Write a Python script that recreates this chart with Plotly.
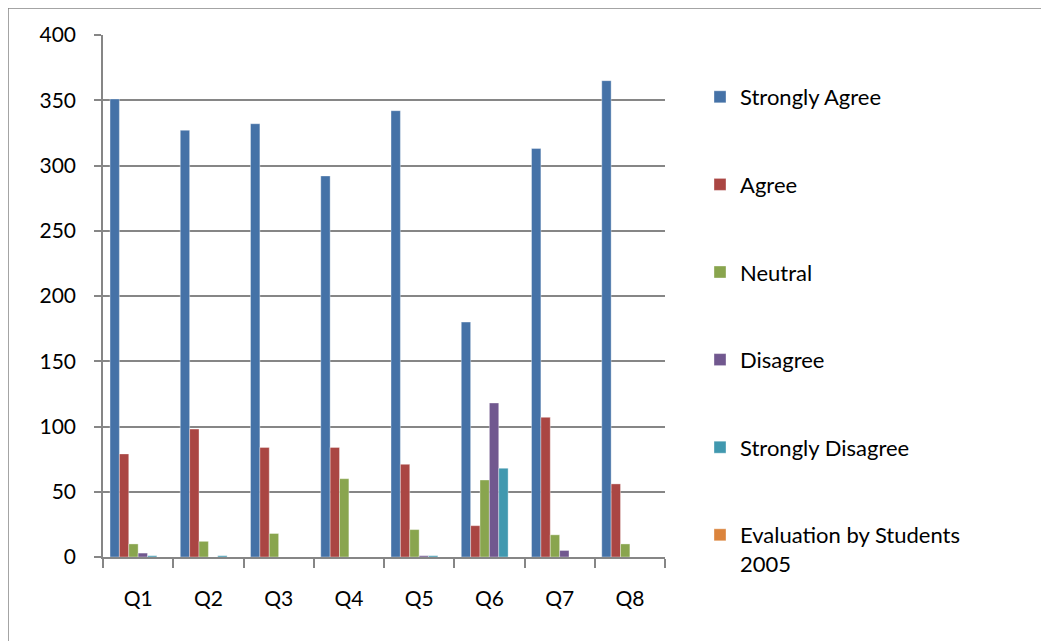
import plotly.graph_objects as go

categories = ["Q1", "Q2", "Q3", "Q4", "Q5", "Q6", "Q7", "Q8"]
strongly_agree = [351, 327, 332, 292, 342, 180, 313, 365]
agree = [79, 98, 84, 84, 71, 24, 107, 56]
neutral = [10, 12, 18, 60, 21, 59, 17, 10]
disagree = [3, 0, 0, 0, 1, 118, 5, 0]
strongly_disagree = [1, 1, 0, 0, 1, 68, 0, 0]
evaluation_2005 = [0, 0, 0, 0, 0, 0, 0, 0]

series = [
    ("Strongly Agree", strongly_agree, "#4572A7"),
    ("Agree", agree, "#AA4643"),
    ("Neutral", neutral, "#89A54E"),
    ("Disagree", disagree, "#71588F"),
    ("Strongly Disagree", strongly_disagree, "#4198AF"),
    ("Evaluation by Students<br>2005", evaluation_2005, "#DB843D"),
]

fig = go.Figure()
for i, (name, vals, col) in enumerate(series):
    fig.add_trace(go.Bar(
        x=categories, y=vals, name=name,
        marker=dict(color=col, line=dict(color="rgba(255,255,255,0.6)", width=0.6)),
        legendgroup=str(i),
    ))

W, H = 1049, 641
OFF = 8  # page body offset
L, R, T, B = 103 - OFF, 665 - OFF, 35 - OFF, 557 - OFF

def px_x(p):
    return (p - OFF - L) / (R - L)

def px_y(p):
    return (B - (p - OFF)) / (B - T)

font = "Lato, 'Open Sans', sans-serif"
fig.update_layout(
    width=W, height=H,
    margin=dict(l=L, r=W - R, t=T, b=H - B),
    paper_bgcolor="white", plot_bgcolor="white",
    barmode="group", bargap=0.2, bargroupgap=0,
    font=dict(family=font, size=21, color="black"),
    showlegend=True,
    legend=dict(
        x=px_x(700), y=px_y(76), xanchor="left", yanchor="top",
        traceorder="grouped", tracegroupgap=56, valign="top",
        font=dict(family=font, size=22, color="black"),
        itemwidth=30,
    ),
    xaxis=dict(
        showgrid=False, showline=True, linecolor="#868686", linewidth=1.5,
        ticks="outside", tickson="boundaries", ticklen=9, tickcolor="#868686",
        tickwidth=1.5, ticklabelstandoff=22,
    ),
    yaxis=dict(
        range=[0, 400], dtick=50, showgrid=True, gridcolor="#868686", gridwidth=1.5,
        showline=True, linecolor="#868686", linewidth=1.5,
        ticks="outside", ticklen=7, tickcolor="#868686", tickwidth=1.5,
        ticklabelstandoff=14, zeroline=False,
    ),
    shapes=[dict(
        type="rect", xref="paper", yref="paper",
        x0=px_x(8), x1=px_x(1100), y0=px_y(700), y1=px_y(8),
        line=dict(color="#868686", width=1.5), fillcolor="rgba(0,0,0,0)", layer="below",
    )],
)

fig.write_html("out.html")
